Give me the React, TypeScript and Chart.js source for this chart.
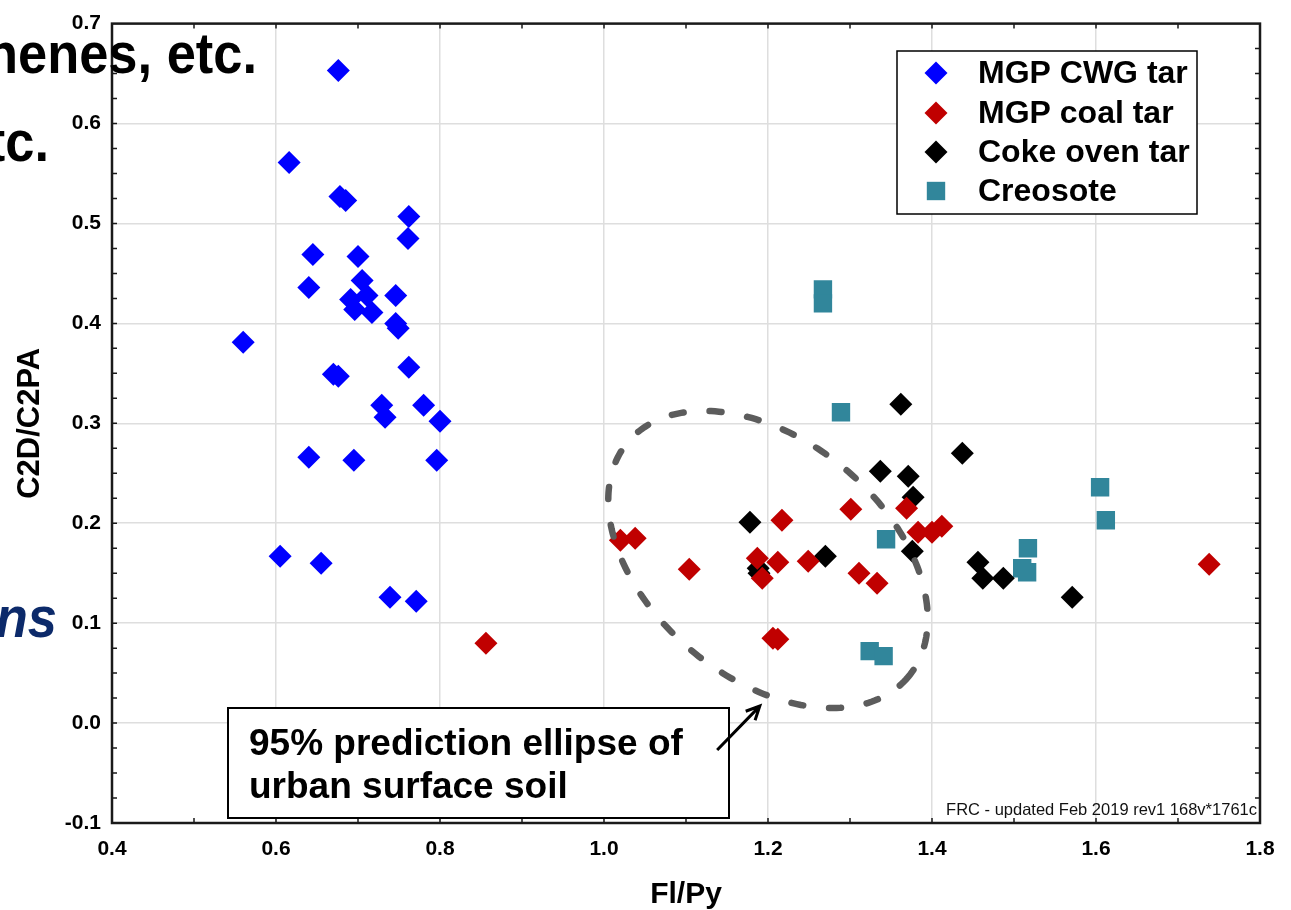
import React, { useEffect, useRef } from 'react';
import { Chart, registerables } from 'chart.js';

Chart.register(...registerables);

const FONT = '"Liberation Sans", Arial, Helvetica, sans-serif';

// ---- data (Fl/Py on x, C2D/C2PA on y) ----
const cwgX = [0.676, 0.616, 0.678, 0.685, 0.762, 0.761, 0.645, 0.700, 0.705, 0.640, 0.691, 0.711, 0.696, 0.717, 0.746, 0.746, 0.749, 0.560, 0.670, 0.676, 0.762, 0.729, 0.733, 0.780, 0.800, 0.640, 0.695, 0.796, 0.605, 0.655, 0.739, 0.771];
const cwgY = [0.653, 0.561, 0.527, 0.523, 0.507, 0.485, 0.469, 0.467, 0.443, 0.436, 0.424, 0.428, 0.414, 0.411, 0.428, 0.400, 0.395, 0.381, 0.349, 0.347, 0.356, 0.318, 0.306, 0.318, 0.302, 0.266, 0.263, 0.263, 0.167, 0.160, 0.126, 0.122];

const coalX = [1.020, 1.038, 1.104, 1.217, 1.187, 1.193, 1.212, 1.249, 1.301, 1.311, 1.333, 1.369, 1.383, 1.400, 1.412, 1.206, 1.212, 0.856, 1.738];
const coalY = [0.183, 0.185, 0.154, 0.203, 0.165, 0.145, 0.161, 0.162, 0.214, 0.150, 0.140, 0.215, 0.191, 0.191, 0.197, 0.085, 0.084, 0.080, 0.159];

const cokeX = [1.362, 1.437, 1.337, 1.371, 1.377, 1.178, 1.270, 1.188, 1.189, 1.376, 1.456, 1.462, 1.487, 1.571];
const cokeY = [0.319, 0.270, 0.252, 0.247, 0.226, 0.201, 0.167, 0.155, 0.150, 0.172, 0.161, 0.145, 0.145, 0.126];

const creoX = [1.267, 1.267, 1.289, 1.344, 1.324, 1.341, 1.605, 1.612, 1.517, 1.510, 1.516];
const creoY = [0.434, 0.420, 0.311, 0.184, 0.072, 0.067, 0.236, 0.203, 0.175, 0.155, 0.151];

const seriesNames = ['MGP CWG tar', 'MGP coal tar', 'Coke oven tar', 'Creosote'];
const seriesColors = ['#0000ff', '#c00000', '#000000', '#31869b'];
const seriesShapes = ['rectRot', 'rectRot', 'rectRot', 'rect'];

// axis settings
const xMin = 0.4, xMax = 1.8, xStep = 0.2, xMinorStep = 0.1;
const yMin = -0.1, yMax = 0.7, yStep = 0.1, yMinorStep = 0.025;
const xTitle = 'Fl/Py';
const yTitle = 'C2D/C2PA';

// 95% prediction ellipse (center and half-axis vectors, data units)
const ellipseCenter = [1.2, 0.1637];
const ellipseMajor = [0.171, -0.1175];
const ellipseMinor = [-0.0933, -0.0911];

// annotation
const annotationLines = ['95% prediction ellipse of', 'urban surface soil'];
const arrowTail = [1.138, -0.027];
const arrowHead = [1.190, 0.017];
const footerText = 'FRC - updated Feb 2019 rev1 168v*1761c';

const fmt = (v: any) => {
  const n = Number(v);
  return (Math.abs(n) < 1e-9 ? 0 : n).toFixed(1);
};

const pts = (xs: number[], ys: number[]) => xs.map((x, i) => ({ x, y: ys[i] }));

const frameTicksPlugin = {
  id: 'frameTicks',
  afterDatasetsDraw(chart: any) {
    const { ctx, chartArea, scales } = chart;
    const { left, right, top, bottom } = chartArea;
    const x = scales.x, y = scales.y;
    ctx.save();
    ctx.strokeStyle = '#1a1a1a';
    ctx.lineWidth = 1.5;
    ctx.beginPath();
    const nx = Math.round((xMax - xMin) / xMinorStep);
    for (let i = 1; i < nx; i++) {
      const px = x.getPixelForValue(xMin + i * xMinorStep);
      ctx.moveTo(px, bottom); ctx.lineTo(px, bottom - 5);
      ctx.moveTo(px, top); ctx.lineTo(px, top + 5);
    }
    const ny = Math.round((yMax - yMin) / yMinorStep);
    for (let i = 1; i < ny; i++) {
      const py = y.getPixelForValue(yMin + i * yMinorStep);
      ctx.moveTo(left, py); ctx.lineTo(left + 5, py);
      ctx.moveTo(right, py); ctx.lineTo(right - 5, py);
    }
    ctx.stroke();
    ctx.lineWidth = 2.5;
    ctx.strokeRect(left, top, right - left, bottom - top);
    ctx.restore();
  },
};

function drawMarker(ctx: CanvasRenderingContext2D, shape: string, cx: number, cy: number, r: number, color: string) {
  ctx.fillStyle = color;
  ctx.beginPath();
  if (shape === 'rect') {
    const h = r * Math.SQRT1_2;
    ctx.rect(cx - h, cy - h, 2 * h, 2 * h);
  } else {
    ctx.moveTo(cx, cy - r); ctx.lineTo(cx + r, cy); ctx.lineTo(cx, cy + r); ctx.lineTo(cx - r, cy); ctx.closePath();
  }
  ctx.fill();
}

function squeezedText(ctx: CanvasRenderingContext2D, text: string, rightX: number, baseY: number, sx: number) {
  ctx.save();
  ctx.translate(rightX, baseY);
  ctx.scale(sx, 1);
  ctx.textAlign = 'right';
  ctx.textBaseline = 'alphabetic';
  ctx.fillText(text, 0, 0);
  ctx.restore();
}

const overlayPlugin = {
  id: 'overlay',
  afterDraw(chart: any) {
    const { ctx, scales } = chart;
    const x = scales.x, y = scales.y;
    ctx.save();

    // ellipse
    ctx.beginPath();
    const N = 240;
    for (let i = 0; i <= N; i++) {
      const t = (i / N) * Math.PI * 2;
      const dx = ellipseCenter[0] + Math.cos(t) * ellipseMajor[0] + Math.sin(t) * ellipseMinor[0];
      const dy = ellipseCenter[1] + Math.cos(t) * ellipseMajor[1] + Math.sin(t) * ellipseMinor[1];
      const px = x.getPixelForValue(dx), py = y.getPixelForValue(dy);
      if (i === 0) ctx.moveTo(px, py); else ctx.lineTo(px, py);
    }
    ctx.strokeStyle = '#5c5c5c';
    ctx.lineWidth = 6.5;
    ctx.lineCap = 'round';
    ctx.setLineDash([12, 26]);
    ctx.stroke();
    ctx.setLineDash([]);
    ctx.lineCap = 'butt';

    // annotation box
    const bx = 228, by = 708, bw = 501, bh = 110;
    ctx.fillStyle = '#fff';
    ctx.fillRect(bx, by, bw, bh);
    ctx.strokeStyle = '#000';
    ctx.lineWidth = 2;
    ctx.strokeRect(bx, by, bw, bh);
    ctx.fillStyle = '#000';
    ctx.font = `bold 37px ${FONT}`;
    ctx.textAlign = 'left';
    ctx.textBaseline = 'alphabetic';
    ctx.fillText(annotationLines[0], 249, 755);
    ctx.fillText(annotationLines[1], 249, 798);

    // arrow
    const ax0 = x.getPixelForValue(arrowTail[0]), ay0 = y.getPixelForValue(arrowTail[1]);
    const ax1 = x.getPixelForValue(arrowHead[0]), ay1 = y.getPixelForValue(arrowHead[1]);
    ctx.lineWidth = 3;
    ctx.beginPath();
    ctx.moveTo(ax0, ay0); ctx.lineTo(ax1, ay1);
    const ang = Math.atan2(ay1 - ay0, ax1 - ax0);
    const hl = 15;
    ctx.moveTo(ax1 - hl * Math.cos(ang - 0.45), ay1 - hl * Math.sin(ang - 0.45));
    ctx.lineTo(ax1, ay1);
    ctx.lineTo(ax1 - hl * Math.cos(ang + 0.45), ay1 - hl * Math.sin(ang + 0.45));
    ctx.stroke();

    // footer
    ctx.font = `16.5px ${FONT}`;
    ctx.fillStyle = '#111';
    ctx.textAlign = 'right';
    ctx.fillText(footerText, 1257, 815);

    // legend
    const lx = 897, ly = 51, lw = 300, lh = 163;
    ctx.fillStyle = '#fff';
    ctx.fillRect(lx, ly, lw, lh);
    ctx.strokeStyle = '#000';
    ctx.lineWidth = 1.5;
    ctx.strokeRect(lx, ly, lw, lh);
    const rows = [73, 113, 152, 191];
    ctx.font = `bold 32px ${FONT}`;
    ctx.textAlign = 'left';
    ctx.textBaseline = 'middle';
    seriesNames.forEach((name, i) => {
      drawMarker(ctx, seriesShapes[i], 936, rows[i], seriesShapes[i] === 'rect' ? 13 : 11.5, seriesColors[i]);
      ctx.fillStyle = '#000';
      ctx.fillText(name, 978, rows[i] + 1);
    });

    // slide text fragments overlapping from the left
    ctx.fillStyle = '#000';
    ctx.font = `bold 57px ${FONT}`;
    squeezedText(ctx, 'thiophenes, etc.', 257, 73, 0.92);
    squeezedText(ctx, 'PAHs, etc.', 49, 161, 0.92);
    ctx.fillStyle = '#0c2a6a';
    ctx.font = `italic bold 57px ${FONT}`;
    squeezedText(ctx, 'conditions', 57, 637, 0.92);

    ctx.restore();
  },
};

export default function App() {
  const ref = useRef<HTMLCanvasElement>(null);
  useEffect(() => {
    if (!ref.current) return;
    const data = [pts(cwgX, cwgY), pts(coalX, coalY), pts(cokeX, cokeY), pts(creoX, creoY)];
    const chart = new Chart(ref.current, {
      type: 'scatter',
      data: {
        datasets: data.map((d, i) => ({
          label: seriesNames[i],
          data: d,
          pointStyle: seriesShapes[i] as any,
          pointRadius: seriesShapes[i] === 'rect' ? 13 : 11.5,
          backgroundColor: seriesColors[i],
          borderColor: seriesColors[i],
          borderWidth: 0,
        })),
      },
      options: {
        responsive: false,
        animation: false,
        events: [],
        layout: { padding: { top: 22, right: 31, left: 0, bottom: 0 } },
        plugins: { legend: { display: false }, tooltip: { enabled: false } },
        scales: {
          x: {
            type: 'linear',
            min: xMin,
            max: xMax,
            afterFit: (s: any) => { s.height = 87; },
            ticks: {
              stepSize: xStep,
              callback: fmt,
              font: { family: FONT, size: 21, weight: 'bold' },
              color: '#000',
              padding: 14,
            },
            grid: { color: '#dedede', lineWidth: 1.5, drawTicks: false },
            border: { display: false },
            title: {
              display: true,
              text: xTitle,
              color: '#000',
              font: { family: FONT, size: 30, weight: 'bold', lineHeight: 1 },
              padding: { top: 0, bottom: 0 },
            },
          },
          y: {
            type: 'linear',
            min: yMin,
            max: yMax,
            afterFit: (s: any) => { s.width = 112; },
            ticks: {
              stepSize: yStep,
              callback: fmt,
              font: { family: FONT, size: 21, weight: 'bold' },
              color: '#000',
              padding: 11,
            },
            grid: { color: '#dedede', lineWidth: 1.5, drawTicks: false },
            border: { display: false },
            title: {
              display: true,
              text: yTitle,
              color: '#000',
              font: { family: FONT, size: 31, weight: 'bold', lineHeight: 1 },
              padding: { top: 15, bottom: 0 },
            },
          },
        },
      },
      plugins: [frameTicksPlugin, overlayPlugin],
    });
    return () => chart.destroy();
  }, []);
  return (
    <div style={{ position: 'fixed', left: 0, top: 0, width: 1291, height: 910, background: '#fff', overflow: 'hidden' }}>
      <canvas ref={ref} width={1291} height={910} style={{ display: 'block' }} />
    </div>
  );
}
